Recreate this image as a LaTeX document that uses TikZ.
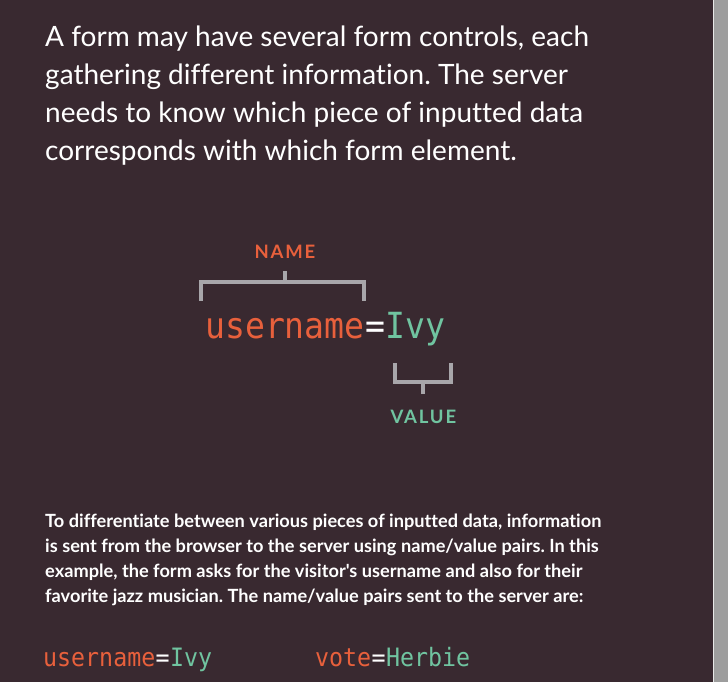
\documentclass[tikz,border=0pt]{standalone}
\usepackage{fontspec}
\setmainfont{Lato}[Ligatures={TeXOff,NoCommon}]
\newfontfamily\codefont{DejaVu Sans Mono}[FakeStretch=0.92]
\usetikzlibrary{positioning}
\frenchspacing

\definecolor{bgplum}{RGB}{57,41,48}
\definecolor{nameorange}{RGB}{232,96,60}
\definecolor{valuegreen}{RGB}{112,196,160}
\definecolor{bracketgray}{RGB}{168,166,170}
\definecolor{edgegray}{RGB}{157,157,157}

\tikzset{
	code/.style={inner sep=0pt, text height=25pt, text depth=8pt, font=\codefont\fontsize{36}{36}\selectfont},
	smallcode/.style={inner sep=0pt, text height=18pt, text depth=6pt, font=\codefont\fontsize{25.3}{25.3}\selectfont},
	bracket/.style={draw=bracketgray, line width=4pt},
	tag/.style={inner sep=0pt, font=\bfseries\fontsize{18.5}{18.5}\selectfont\addfontfeature{LetterSpace=10}},
	para/.style={inner sep=0pt, anchor=north west, align=left, text=white},
}

\begin{document}
\begin{tikzpicture}[x=1pt, y=-1pt]
	% Background and page edge:
	\useasboundingbox (0,0) rectangle (728,682);
	\fill[bgplum] (0,0) rectangle (728,682);
	\fill[edgegray] (714,0) rectangle (728,682);
	\draw[white!75!edgegray, line width=1pt] (713.5,0) -- (713.5,682);

	% Intro text:
	\node[para, font=\fontsize{28}{38}\selectfont] (intro) at (45,26) {A form may have several form controls, each\\gathering different information. The server\\needs to know which piece of inputted data\\corresponds with which form element.};

	% Name/value pair:
	\node[code, text=nameorange, anchor=base west] (user) at (205,338) {username};
	\node[code, text=white, anchor=base west] (eq) at (user.base east) {=};
	\node[code, text=valuegreen, anchor=base west] (ivy) at (eq.base east) {Ivy};

	% Name bracket:
	\coordinate (namebar) at ([yshift=31pt]user.north);
	\coordinate (nametip) at ([yshift=42pt]user.north);
	\draw[bracket] ([xshift=-4pt,yshift=12pt]user.north west) |- (namebar) -| ([xshift=-1pt,yshift=12pt]user.north east);
	\draw[bracket] (namebar) -- (nametip);
	\node[tag, text=nameorange, above=12pt of nametip] (name) {NAME};

	% Value bracket:
	\coordinate (valuebar) at ([xshift=8pt,yshift=-36pt]ivy.south);
	\coordinate (valuetip) at ([xshift=8pt,yshift=-48pt]ivy.south);
	\draw[bracket] ([xshift=10pt,yshift=-17pt]ivy.south west) |- (valuebar) -| ([xshift=6pt,yshift=-17pt]ivy.south east);
	\draw[bracket] (valuebar) -- (valuetip);
	\node[tag, text=valuegreen, below=16pt of valuetip] (value) {VALUE};

	% Explanation:
	\node[para, font=\bfseries\fontsize{18.2}{24.8}\selectfont] (explain) at (45,514) {To differentiate between various pieces of inputted data, information\\is sent from the browser to the server using name/value pairs. In this\\example, the form asks for the visitor's username and also for their\\favorite jazz musician. The name/value pairs sent to the server are:};

	% Pairs sent:
	\node[smallcode, text=nameorange, anchor=base west] (user2) at (43,666) {username};
	\node[smallcode, text=white, anchor=base west] (eq2) at (user2.base east) {=};
	\node[smallcode, text=valuegreen, anchor=base west] (ivy2) at (eq2.base east) {Ivy};
	\node[smallcode, text=nameorange, anchor=base west] (vote) at (315,666) {vote};
	\node[smallcode, text=white, anchor=base west] (eq3) at (vote.base east) {=};
	\node[smallcode, text=valuegreen, anchor=base west] (herbie) at (eq3.base east) {Herbie};
\end{tikzpicture}
\end{document}
